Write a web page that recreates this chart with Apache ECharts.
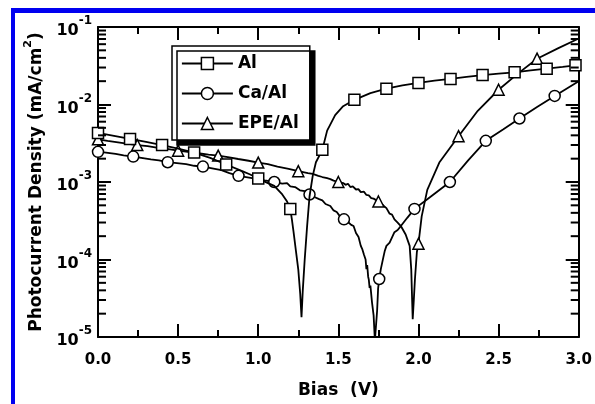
<!DOCTYPE html>
<html><head><meta charset="utf-8">
<script src="https://cdn.jsdelivr.net/npm/echarts@6/dist/echarts.min.js"></script>
<style>html,body{margin:0;padding:0;background:#fff}#c{width:595px;height:404px}</style>
</head><body><div id="c"></div>
<script>
// ---- data (Bias V, Photocurrent density mA/cm^2) ----
const seriesNames = ['Al', 'Ca/Al', 'EPE/Al'];
const xTickLabels = ['0.0', '0.5', '1.0', '1.5', '2.0', '2.5', '3.0'];
const yDecades = [1e-5, 1e-4, 1e-3, 1e-2, 1e-1];

const alMarkers = [[0,4.3e-3],[0.2,3.6e-3],[0.4,3.0e-3],[0.6,2.4e-3],[0.8,1.68e-3],[1.0,1.11e-3],[1.2,4.5e-4],[1.4,2.6e-3],[1.6,1.15e-2],[1.8,1.6e-2],[2.0,1.9e-2],[2.2,2.14e-2],[2.4,2.4e-2],[2.6,2.6e-2],[2.8,2.9e-2],[2.98,3.2e-2]];
const alCurve = [[0.1,3.95e-3],[0.3,3.3e-3],[0.5,2.7e-3],[0.7,2.05e-3],[0.9,1.38e-3],[0.95,1.25e-3],[1.05,9.9e-4],[1.1,8.9e-4],[1.15,6.9e-4],[1.18,5.6e-4],[1.21,3.3e-4],[1.22,2.3e-4],[1.235,1.3e-4],[1.25,7.4e-5],[1.262,3.6e-5],[1.27,1.8e-5],[1.278,4.0e-5],[1.29,1.0e-4],[1.305,2.7e-4],[1.32,6.5e-4],[1.34,1.2e-3],[1.36,1.8e-3],[1.43,4.6e-3],[1.48,7.3e-3],[1.53,9.5e-3],[1.7,1.4e-2],[1.9,1.76e-2],[2.1,2.03e-2],[2.3,2.27e-2],[2.5,2.5e-2],[2.7,2.75e-2],[2.9,3.05e-2],[3.0,3.25e-2]];

const caMarkers = [[0,2.45e-3],[0.22,2.13e-3],[0.435,1.8e-3],[0.655,1.58e-3],[0.877,1.2e-3],[1.10,1.0e-3],[1.32,6.9e-4],[1.535,3.3e-4],[1.755,5.6e-5],[1.975,4.5e-4],[2.196,1.0e-3],[2.42,3.4e-3],[2.63,6.6e-3],[2.85,1.29e-2]];
const caCurve = [[0.05,2.4e-3],[0.11,2.3e-3],[0.16,2.2e-3],[0.33,1.96e-3],[0.38,1.9e-3],[0.55,1.7e-3],[0.6,1.62e-3],[0.77,1.42e-3],[0.82,1.3e-3],[0.99,1.1e-3],[1.04,1.05e-3],[1.15,9.5e-4],[1.18,9.7e-4],[1.2,8.8e-4],[1.23,8.6e-4],[1.26,7.8e-4],[1.29,7.6e-4],[1.35,6.4e-4],[1.38,6.0e-4],[1.40,5.8e-4],[1.42,5.2e-4],[1.45,4.9e-4],[1.47,4.3e-4],[1.49,4.1e-4],[1.51,3.6e-4],[1.56,3.05e-4],[1.58,2.8e-4],[1.595,2.7e-4],[1.61,2.2e-4],[1.626,1.95e-4],[1.64,1.5e-4],[1.65,1.35e-4],[1.66,1.15e-4],[1.67,1.0e-4],[1.675,7.5e-5],[1.68,8.5e-5],[1.686,6.0e-5],[1.69,5.5e-5],[1.695,4.3e-5],[1.70,4.6e-5],[1.71,2.8e-5],[1.72,1.9e-5],[1.728,9e-6],[1.735,9e-6],[1.742,2.2e-5],[1.748,4.2e-5],[1.765,7.5e-5],[1.78,1.05e-4],[1.79,1.3e-4],[1.80,1.5e-4],[1.81,1.45e-4],[1.82,1.65e-4],[1.83,1.6e-4],[1.85,2.25e-4],[1.87,2.4e-4],[1.89,2.7e-4],[1.93,3.45e-4],[2.055,6.0e-4],[2.31,1.9e-3],[2.53,4.8e-3],[2.74,9.3e-3],[3.0,2.0e-2]];

const epeMarkers = [[0,3.55e-3],[0.245,3.0e-3],[0.5,2.54e-3],[0.75,2.19e-3],[1.0,1.78e-3],[1.25,1.38e-3],[1.5,1.0e-3],[1.75,5.6e-4],[2.0,1.6e-4],[2.25,3.9e-3],[2.5,1.55e-2],[2.74,3.9e-2]];
const epeCurve = [[0.06,3.4e-3],[0.125,3.25e-3],[0.19,3.1e-3],[0.31,2.9e-3],[0.375,2.75e-3],[0.44,2.65e-3],[0.56,2.45e-3],[0.625,2.35e-3],[0.69,2.25e-3],[0.81,2.1e-3],[0.875,1.98e-3],[0.94,1.88e-3],[1.06,1.7e-3],[1.12,1.58e-3],[1.19,1.48e-3],[1.31,1.3e-3],[1.34,1.27e-3],[1.375,1.2e-3],[1.40,1.16e-3],[1.43,1.12e-3],[1.45,1.09e-3],[1.47,1.04e-3],[1.53,9.7e-4],[1.545,9.2e-4],[1.56,9.5e-4],[1.575,8.6e-4],[1.59,8.8e-4],[1.61,8.0e-4],[1.625,8.1e-4],[1.64,7.4e-4],[1.66,7.5e-4],[1.675,6.8e-4],[1.69,6.7e-4],[1.705,6.2e-4],[1.72,6.1e-4],[1.78,5.0e-4],[1.80,4.6e-4],[1.82,3.9e-4],[1.835,3.8e-4],[1.85,3.3e-4],[1.87,3.0e-4],[1.89,2.7e-4],[1.92,2.1e-4],[1.945,1.5e-4],[1.955,7.4e-5],[1.96,3.2e-5],[1.964,1.7e-5],[1.97,2.8e-5],[1.978,5.6e-5],[1.99,1.25e-4],[2.02,3.6e-4],[2.055,7.9e-4],[2.13,1.78e-3],[2.37,8.3e-3],[2.62,2.5e-2],[2.87,5.3e-2],[3.0,7.1e-2]];

// minor log ticks (2..9 x 10^k)
const yMinorTicks = [];
for (let k = 0; k < yDecades.length - 1; k++) {
  for (let m = 2; m <= 9; m++) yMinorTicks.push(+(m * yDecades[k]).toPrecision(3));
}

const FONT = 'DejaVu Sans';
function build(curve, markers) {
  const pts = curve.map(p => ({ value: p, symbol: 'none' })).concat(markers.map(p => ({ value: p })));
  pts.sort((a, b) => a.value[0] - b.value[0]);
  return pts;
}
function lineSeries(name, sym, curve, markers, z) {
  return {
    name: name, type: 'line', data: build(curve, markers), symbol: sym, symbolSize: 11,
    showSymbol: true, showAllSymbol: true, animation: false, z: z,
    lineStyle: { color: '#000', width: 1.8 },
    itemStyle: { color: '#fff', borderColor: '#000', borderWidth: 1.5 }
  };
}
const axisCommon = {
  axisLine: { show: true, onZero: false, lineStyle: { color: '#000', width: 2 } },
  splitLine: { show: false }
};

const chart = echarts.init(document.getElementById('c'), null, { renderer: 'canvas' });
chart.setOption({
  backgroundColor: '#fff',
  animation: false,
  textStyle: { fontFamily: FONT },
  grid: { left: 98, right: 8, top: 27, bottom: 66 },
  legend: {
    data: seriesNames, orient: 'vertical', left: 172, top: 46,
    padding: [9, 11, 8, 9], itemGap: 13, itemWidth: 51, itemHeight: 15,
    backgroundColor: '#fff', borderColor: '#000', borderWidth: 1.5,
    shadowColor: '#000', shadowBlur: 0, shadowOffsetX: 5, shadowOffsetY: 5,
    textStyle: { fontFamily: FONT, fontWeight: 'bold', fontSize: 17, color: '#000', padding: [0, 0, 0, 0] },
    itemStyle: { color: '#fff', borderColor: '#000', borderWidth: 1.5 },
    lineStyle: { color: '#000', width: 1.8 }
  },
  xAxis: [
    Object.assign({
      type: 'value', min: 0, max: 3, interval: 0.5, position: 'bottom',
      name: 'Bias  (V)', nameLocation: 'middle', nameGap: 45,
      nameTextStyle: { fontFamily: FONT, fontWeight: 'bold', fontSize: 17, color: '#000' },
      axisTick: { show: true, inside: true, length: 13, lineStyle: { color: '#000', width: 2 } },
      minorTick: { show: true, splitNumber: 2, length: 7, lineStyle: { color: '#000', width: 2 } },
      axisLabel: { margin: 16, color: '#000', fontFamily: FONT, fontWeight: 'bold', fontSize: 15,
        formatter: v => xTickLabels[Math.round(v * 2)] }
    }, axisCommon),
    Object.assign({
      type: 'value', min: 0, max: 3, interval: 0.5, position: 'top',
      axisTick: { show: true, inside: true, length: 13, lineStyle: { color: '#000', width: 2 } },
      minorTick: { show: true, splitNumber: 2, length: 7, lineStyle: { color: '#000', width: 2 } },
      axisLabel: { show: false }
    }, axisCommon)
  ],
  yAxis: [
    Object.assign({
      type: 'log', logBase: 10, min: 1e-5, max: 1e-1, position: 'left',
      name: '{t|Photocurrent Density (mA/cm}{s|2}{t|)}', nameLocation: 'middle', nameGap: 53, nameRotate: 90,
      nameTextStyle: { rich: {
        t: { fontFamily: FONT, fontWeight: 'bold', fontSize: 17, color: '#000', verticalAlign: 'bottom', lineHeight: 22 },
        s: { fontFamily: FONT, fontWeight: 'bold', fontSize: 11, color: '#000', verticalAlign: 'top', lineHeight: 22 } } },
      axisTick: { show: true, inside: true, length: 13, lineStyle: { color: '#000', width: 2 } },
      axisLabel: { margin: 6, color: '#000',
        formatter: v => '{b|10}{e|' + Math.round(Math.log10(v)) + '}',
        rich: {
          b: { fontFamily: FONT, fontWeight: 'bold', fontSize: 16, color: '#000', verticalAlign: 'bottom', lineHeight: 24 },
          e: { fontFamily: FONT, fontWeight: 'bold', fontSize: 12, color: '#000', verticalAlign: 'top', lineHeight: 24 }
        } }
    }, axisCommon),
    Object.assign({
      type: 'log', logBase: 10, min: 1e-5, max: 1e-1, position: 'right',
      axisTick: { show: true, inside: true, length: 13, lineStyle: { color: '#000', width: 2 } },
      axisLabel: { show: false }
    }, axisCommon)
  ],
  graphic: [
    { type: 'rect', shape: { x: 11, y: 8, width: 4, height: 396 }, style: { fill: '#0000f0' }, z: 100 },
    { type: 'rect', shape: { x: 11, y: 8, width: 584, height: 5 }, style: { fill: '#0000f0' }, z: 100 }
  ],
  series: [
    lineSeries('Al', 'rect', alCurve, alMarkers, 4),
    lineSeries('Ca/Al', 'circle', caCurve, caMarkers, 3),
    lineSeries('EPE/Al', 'triangle', epeCurve, epeMarkers, 2),
    {
      type: 'custom', silent: true, animation: false, z: 6,
      data: yMinorTicks.map(v => [0, v]),
      renderItem: function (params, api) {
        const y = api.value(1);
        const p0 = api.coord([0, y]);
        const p1 = api.coord([3, y]);
        return { type: 'group', children: [
          { type: 'line', shape: { x1: p0[0], y1: p0[1], x2: p0[0] + 8, y2: p0[1] }, style: { stroke: '#000', lineWidth: 2 } },
          { type: 'line', shape: { x1: p1[0] - 8, y1: p1[1], x2: p1[0], y2: p1[1] }, style: { stroke: '#000', lineWidth: 2 } }
        ] };
      }
    }
  ]
});
</script></body></html>
